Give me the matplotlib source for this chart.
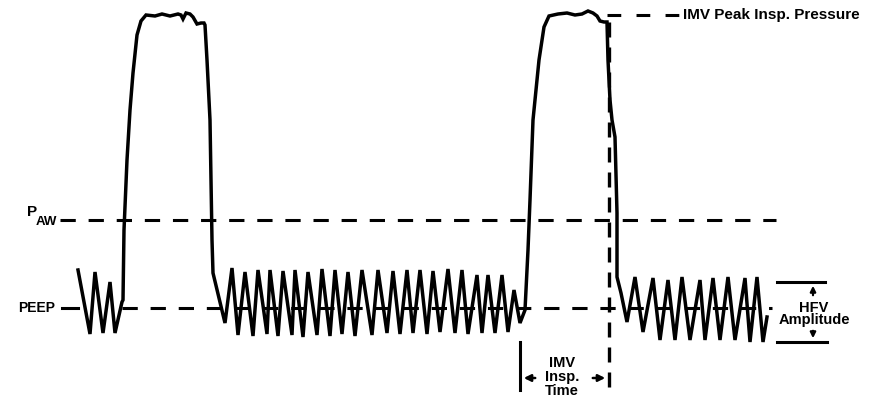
import numpy as np
import matplotlib.pyplot as plt

plt.rcParams['font.family'] = ['Liberation Sans', 'DejaVu Sans']

# trace: x = time (px), y = pressure (px from top)
osc_left_x = [78, 90, 95, 103, 110, 115, 122]
osc_left_y = [270, 334, 272, 333, 282, 333, 302]

breath1_x = [123, 124, 127, 130, 133, 137, 141, 146, 155, 162, 170, 178, 181, 183, 186,
             190, 193, 197, 201, 204, 205, 207, 210, 212, 213, 225]
breath1_y = [300, 230, 160, 110, 73, 35, 21, 15, 16, 14, 16, 14, 15, 19, 13,
             14, 17, 24, 23, 23, 25, 60, 120, 240, 273, 323]

mid_peak_x = [232, 245, 258, 270, 283, 295, 308, 322, 335, 348, 362, 378, 393, 407,
              420, 433, 448, 462, 477, 488, 502, 514]
mid_peak_y = [268, 272, 270, 270, 271, 270, 272, 269, 270, 272, 270, 270, 271, 270,
              270, 271, 269, 270, 275, 275, 275, 290]
mid_trough_x = [238, 253, 267, 278, 292, 303, 317, 330, 342, 355, 372, 387, 400, 413,
                427, 440, 455, 468, 482, 495, 508, 520]
mid_trough_y = [335, 336, 334, 336, 335, 337, 335, 336, 334, 336, 335, 333, 334, 333,
                334, 332, 333, 334, 333, 333, 332, 323]

breath2_x = [525, 528, 530, 533, 539, 544, 549, 558, 567, 575, 582, 588, 593, 597,
             600, 604, 607, 608, 610, 612, 615, 617, 617, 617, 621, 627]
breath2_y = [310, 250, 200, 120, 60, 27, 16, 14, 13, 15, 14, 11, 13, 16,
             21, 22, 22, 60, 100, 120, 137, 213, 240, 277, 293, 322]

right_peak_x = [635, 653, 668, 682, 700, 713, 728, 745, 757]
right_peak_y = [277, 278, 280, 277, 280, 278, 277, 278, 277]
right_trough_x = [643, 660, 675, 690, 705, 720, 735, 750, 763]
right_trough_y = [332, 340, 340, 340, 340, 340, 340, 342, 342]
right_end = (767, 317)

# reference levels
peep = 308
paw = 220
pip = 15
hfv_top = 282
hfv_bot = 342


def zigzag(px, py, tx, ty):
    xs, ys = [], []
    for a, b, c, d in zip(px, py, tx, ty):
        xs += [a, c]
        ys += [b, d]
    return xs, ys


mx, my = zigzag(mid_peak_x, mid_peak_y, mid_trough_x, mid_trough_y)
rx, ry = zigzag(right_peak_x, right_peak_y, right_trough_x, right_trough_y)

wave_x = osc_left_x + breath1_x + mx + breath2_x + rx + [right_end[0]]
wave_y = osc_left_y + breath1_y + my + breath2_y + ry + [right_end[1]]

fig = plt.figure(figsize=(8.71, 3.99), dpi=100)
ax = fig.add_axes([0, 0, 1, 1])
ax.set_xlim(0, 871)
ax.set_ylim(399, 0)
ax.axis('off')

# dashed reference lines
ax.plot([60, 776], [paw, paw], color='black', lw=2.2, dashes=(5, 4.2))
ax.plot([62, 78], [peep, peep], color='black', lw=2.2)
ax.plot([122, 772], [peep, peep], color='black', lw=2.2, dashes=(5, 4.2))
ax.plot([607, 682], [pip, pip], color='black', lw=2.2, dashes=(4.5, 5))
ax.plot([609, 609], [22, 396], color='black', lw=2.4, dashes=(4.5, 3))

# pressure trace
ax.plot(wave_x, wave_y, color='black', lw=2.5, solid_joinstyle='miter')

bold = dict(fontweight='bold', color='black')
ax.text(683, pip, 'IMV Peak Insp. Pressure', fontsize=11, ha='left', va='center', **bold)
ax.text(27, 212, 'P', fontsize=11, ha='left', va='center', **bold)
ax.text(36, 222, 'AW', fontsize=9.5, ha='left', va='center', **bold)
ax.text(55, peep, 'PEEP', fontsize=10, ha='right', va='center', **bold)

# IMV insp. time marker
ax.plot([520, 520], [342, 390], color='black', lw=2.2)
ax.text(562, 377, 'IMV\nInsp.\nTime', fontsize=10.5, ha='center', va='center',
        linespacing=1.0, **bold)
arr = dict(arrowstyle='-|>', lw=1.8, color='black', mutation_scale=10)
ax.annotate('', xy=(521, 378), xytext=(538, 378), arrowprops=arr)
ax.annotate('', xy=(608, 378), xytext=(590, 378), arrowprops=arr)

# HFV amplitude marker
ax.plot([777, 825], [hfv_top, hfv_top], color='black', lw=2.2)
ax.plot([777, 827], [hfv_bot, hfv_bot], color='black', lw=2.2)
ax.text(814, 314, 'HFV\nAmplitude', fontsize=10.5, ha='center', va='center',
        linespacing=0.85, **bold)
arr_v = dict(arrowstyle='-|>', lw=1.6, color='black', mutation_scale=8)
ax.annotate('', xy=(813, hfv_top + 1), xytext=(813, 298), arrowprops=arr_v)
ax.annotate('', xy=(813, hfv_bot - 1), xytext=(813, 328), arrowprops=arr_v)

fig.savefig('out.png', dpi=100)
